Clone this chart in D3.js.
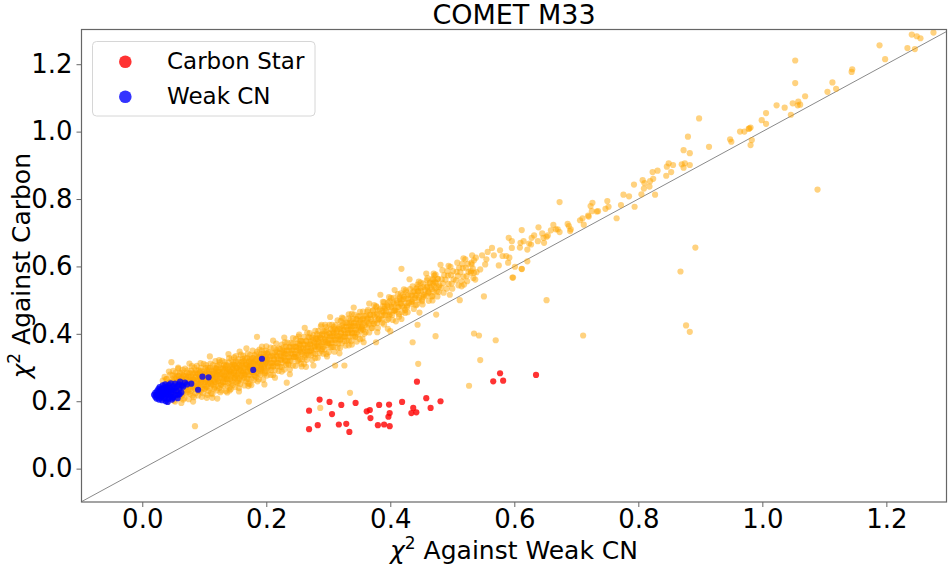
<!DOCTYPE html>
<html>
<head>
<meta charset="utf-8">
<script src="https://cdn.jsdelivr.net/npm/d3@7"></script>
<style>
  body { margin: 0; background: #fff; }
  text { font-family: "DejaVu Sans", sans-serif; fill: #000; }
</style>
</head>
<body>
<svg id="chart" width="948" height="565"></svg>
<script>
// ---- labels and ticks ----
const chartTitle = "COMET M33";
const xLabelText = " Against Weak CN";
const yLabelText = " Against Carbon";
const legendLabels = ["Carbon Star", "Weak CN"];
const xTicks = [0.0, 0.2, 0.4, 0.6, 0.8, 1.0, 1.2];
const yTicks = [0.0, 0.2, 0.4, 0.6, 0.8, 1.0, 1.2];

// ---- all stars: [chi2 vs weak CN, chi2 vs carbon] ----
// dense lower part of the sequence
const allStarsLow = [
[.034,.208],[.036,.222],[.035,.236],[.037,.249],[.033,.261],[.036,.272],[.041,.199],[.043,.214],[.040,.229],[.044,.241],[.042,.253],[.039,.266],[.045,.279],[.043,.288],
[.051,.202],[.049,.216],[.052,.227],[.048,.236],[.050,.244],[.051,.251],[.048,.259],[.052,.268],[.049,.277],[.050,.290],
[.053,.199],[.056,.215],[.055,.226],[.057,.235],[.054,.243],[.053,.251],[.056,.259],[.055,.267],[.057,.276],[.054,.285],
[.060,.210],[.062,.223],[.059,.234],[.061,.243],[.058,.251],[.060,.258],[.062,.266],[.059,.275],[.061,.284],[.058,.297],
[.066,.205],[.064,.217],[.067,.228],[.063,.238],[.065,.248],[.066,.258],[.063,.267],[.067,.276],[.064,.285],[.065,.293],
[.068,.209],[.071,.223],[.070,.234],[.072,.243],[.069,.251],[.068,.258],[.071,.266],[.070,.275],[.072,.284],[.069,.297],
[.075,.206],[.077,.222],[.074,.233],[.076,.242],[.073,.250],[.075,.258],[.077,.266],[.074,.274],[.076,.283],[.073,.292],
[.081,.217],[.079,.230],[.082,.241],[.078,.250],[.080,.258],[.081,.265],[.078,.273],[.082,.282],[.079,.291],[.080,.304],
[.083,.212],[.086,.224],[.085,.235],[.087,.245],[.084,.255],[.083,.265],[.086,.274],[.085,.283],[.087,.292],[.084,.300],
[.090,.217],[.092,.231],[.089,.242],[.091,.251],[.088,.259],[.090,.266],[.092,.274],[.089,.283],[.091,.292],[.088,.305],
[.096,.213],[.094,.229],[.097,.240],[.093,.249],[.095,.257],[.096,.265],[.093,.273],[.097,.281],[.094,.290],[.095,.299],
[.098,.224],[.101,.237],[.100,.248],[.102,.257],[.099,.265],[.098,.272],[.101,.280],[.100,.289],[.102,.298],[.099,.311],
[.105,.219],[.107,.231],[.104,.242],[.106,.252],[.103,.262],[.105,.272],[.107,.281],[.104,.290],[.106,.299],[.103,.307],
[.111,.224],[.109,.238],[.112,.249],[.108,.258],[.110,.266],[.111,.273],[.108,.281],[.112,.290],[.109,.299],[.110,.312],
[.113,.221],[.116,.237],[.115,.248],[.117,.257],[.114,.265],[.113,.273],[.116,.281],[.115,.289],[.117,.298],[.114,.307],
[.120,.232],[.122,.245],[.119,.256],[.121,.265],[.118,.273],[.120,.280],[.122,.288],[.119,.297],[.121,.306],[.118,.319],
[.126,.227],[.124,.239],[.127,.250],[.123,.260],[.125,.270],[.126,.280],[.123,.289],[.127,.298],[.124,.307],[.125,.315],
[.128,.232],[.131,.246],[.130,.257],[.132,.266],[.129,.274],[.128,.281],[.131,.289],[.130,.298],[.132,.307],[.129,.320],
[.135,.230],[.137,.246],[.134,.257],[.136,.266],[.133,.274],[.135,.282],[.137,.290],[.134,.298],[.136,.307],[.133,.316],
[.141,.241],[.139,.254],[.142,.265],[.138,.274],[.140,.282],[.141,.289],[.138,.297],[.142,.306],[.139,.315],[.140,.328],
[.143,.236],[.146,.248],[.145,.259],[.147,.269],[.144,.279],[.143,.289],[.146,.298],[.145,.307],[.147,.316],[.144,.324],
[.150,.242],[.152,.256],[.149,.267],[.151,.276],[.148,.284],[.150,.291],[.152,.299],[.149,.308],[.151,.317],[.148,.330],
[.156,.239],[.154,.255],[.157,.266],[.153,.275],[.155,.283],[.156,.291],[.153,.299],[.157,.307],[.154,.316],[.155,.325],
[.158,.251],[.161,.264],[.160,.275],[.162,.284],[.159,.292],[.158,.299],[.161,.307],[.160,.316],[.162,.325],[.159,.338],
[.165,.247],[.167,.259],[.164,.270],[.166,.280],[.163,.290],[.165,.300],[.167,.309],[.164,.318],[.166,.327],[.163,.335],
[.171,.253],[.169,.267],[.172,.278],[.168,.287],[.170,.295],[.171,.302],[.168,.310],[.172,.319],[.169,.328],[.170,.341],
[.173,.251],[.176,.267],[.175,.278],[.177,.287],[.174,.295],[.173,.303],[.176,.311],[.175,.319],[.177,.328],[.174,.337],
[.180,.263],[.182,.276],[.179,.287],[.181,.296],[.178,.304],[.180,.311],[.182,.319],[.179,.328],[.181,.337],[.178,.350],
[.186,.259],[.184,.271],[.187,.282],[.183,.292],[.185,.302],[.186,.312],[.183,.321],[.187,.330],[.184,.339],[.185,.347],
[.188,.265],[.191,.279],[.190,.290],[.192,.299],[.189,.307],[.188,.314],[.191,.322],[.190,.331],[.192,.340],[.189,.353],
[.195,.264],[.197,.280],[.194,.291],[.196,.300],[.193,.308],[.195,.316],[.197,.324],[.194,.332],[.196,.341],[.193,.350],
[.201,.276],[.199,.289],[.202,.300],[.198,.309],[.200,.317],[.201,.324],[.198,.332],[.202,.341],[.199,.350],[.200,.363]
];

// middle part of the sequence
const allStarsMid = [
[.207,.278],[.204,.292],[.208,.304],[.206,.314],[.205,.324],[.208,.334],[.204,.346],[.207,.359],
[.211,.278],[.214,.292],[.212,.304],[.210,.314],[.213,.324],[.211,.334],[.214,.345],[.212,.358],
[.220,.290],[.218,.304],[.216,.315],[.219,.325],[.217,.335],[.218,.345],[.220,.357],[.216,.371],
[.225,.288],[.222,.302],[.226,.314],[.224,.324],[.223,.334],[.226,.344],[.222,.355],[.225,.368],
[.229,.294],[.232,.308],[.230,.320],[.228,.330],[.231,.340],[.229,.350],[.232,.362],[.230,.375],
[.238,.294],[.236,.308],[.234,.320],[.237,.330],[.235,.340],[.236,.350],[.238,.361],[.234,.374],
[.243,.306],[.240,.320],[.244,.331],[.242,.341],[.241,.351],[.244,.361],[.240,.373],[.243,.387],
[.247,.305],[.250,.319],[.248,.331],[.246,.341],[.249,.351],[.247,.361],[.250,.372],[.248,.385],
[.256,.311],[.254,.325],[.252,.337],[.255,.347],[.253,.357],[.254,.367],[.256,.379],[.252,.392],
[.261,.311],[.258,.325],[.262,.337],[.260,.347],[.259,.357],[.262,.367],[.258,.378],[.261,.391],
[.265,.323],[.268,.337],[.266,.348],[.264,.358],[.267,.368],[.265,.378],[.268,.390],[.266,.404],
[.274,.322],[.272,.336],[.270,.348],[.273,.358],[.271,.368],[.272,.378],[.274,.389],[.270,.402],
[.279,.328],[.276,.342],[.280,.354],[.278,.364],[.277,.374],[.280,.384],[.276,.396],[.279,.409],
[.283,.329],[.286,.343],[.284,.355],[.282,.365],[.285,.375],[.283,.385],[.286,.396],[.284,.409],
[.292,.341],[.290,.355],[.288,.366],[.291,.376],[.289,.386],[.290,.396],[.292,.408],[.288,.422],
[.297,.340],[.294,.354],[.298,.366],[.296,.376],[.295,.386],[.298,.396],[.294,.407],[.297,.420],
[.301,.346],[.304,.360],[.302,.372],[.300,.382],[.303,.392],[.301,.402],[.304,.414],[.302,.427],
[.310,.347],[.308,.361],[.306,.373],[.309,.383],[.307,.393],[.308,.403],[.310,.414],[.306,.427],
[.315,.359],[.312,.373],[.316,.384],[.314,.394],[.313,.404],[.316,.414],[.312,.426],[.315,.440],
[.319,.358],[.322,.372],[.320,.384],[.318,.394],[.321,.404],[.319,.414],[.322,.425],[.320,.438],
[.328,.365],[.326,.379],[.324,.391],[.327,.401],[.325,.411],[.326,.421],[.328,.433],[.324,.446],
[.333,.366],[.330,.380],[.334,.392],[.332,.402],[.331,.412],[.334,.422],[.330,.433],[.333,.446],
[.337,.378],[.340,.392],[.338,.403],[.336,.413],[.339,.423],[.337,.433],[.340,.445],[.338,.459],
[.346,.377],[.344,.391],[.342,.403],[.345,.413],[.343,.423],[.344,.433],[.346,.444],[.342,.457],
[.351,.384],[.348,.398],[.352,.410],[.350,.420],[.349,.430],[.352,.440],[.348,.452],[.351,.465],
[.355,.386],[.358,.400],[.356,.412],[.354,.422],[.357,.432],[.355,.442],[.358,.453],[.356,.466]
];

// crowded core of the sequence
const allStarsCore = [
[.046,.217],[.041,.228],[.047,.237],[.040,.247],[.044,.256],[.039,.266],
[.049,.225],[.056,.236],[.051,.246],[.055,.255],[.048,.264],[.054,.274],
[.063,.221],[.057,.232],[.062,.242],[.065,.252],[.059,.261],[.064,.270],
[.073,.227],[.068,.238],[.074,.247],[.067,.257],[.071,.266],[.066,.276],
[.076,.235],[.083,.246],[.078,.256],[.082,.265],[.075,.274],[.081,.284],
[.090,.231],[.084,.242],[.089,.252],[.092,.262],[.086,.271],[.091,.280],
[.100,.237],[.095,.248],[.101,.257],[.094,.267],[.098,.276],[.093,.286],
[.103,.244],[.110,.255],[.105,.265],[.109,.274],[.102,.283],[.108,.293],
[.117,.241],[.111,.252],[.116,.262],[.119,.272],[.113,.281],[.118,.290],
[.127,.248],[.122,.259],[.128,.268],[.121,.278],[.125,.287],[.120,.297],
[.130,.256],[.137,.267],[.132,.277],[.136,.286],[.129,.295],[.135,.305],
[.144,.253],[.138,.264],[.143,.274],[.146,.284],[.140,.293],[.145,.302],
[.154,.260],[.149,.271],[.155,.280],[.148,.290],[.152,.299],[.147,.309],
[.157,.269],[.164,.280],[.159,.290],[.163,.299],[.156,.308],[.162,.318],
[.171,.267],[.165,.278],[.170,.288],[.173,.298],[.167,.307],[.172,.316],
[.181,.276],[.176,.287],[.182,.296],[.175,.306],[.179,.315],[.174,.325],
[.184,.285],[.191,.296],[.186,.306],[.190,.315],[.183,.324],[.189,.334],
[.198,.284],[.192,.295],[.197,.305],[.200,.315],[.194,.324],[.199,.333],
[.208,.293],[.203,.304],[.209,.313],[.202,.323],[.206,.332],[.201,.342],
[.211,.303],[.218,.314],[.213,.324],[.217,.333],[.210,.342],[.216,.352],
[.225,.302],[.219,.313],[.224,.323],[.227,.333],[.221,.342],[.226,.351],
[.235,.311],[.230,.322],[.236,.331],[.229,.341],[.233,.350],[.228,.360],
[.238,.321],[.245,.332],[.240,.342],[.244,.351],[.237,.360],[.243,.370],
[.252,.321],[.246,.332],[.251,.342],[.254,.352],[.248,.361],[.253,.370],
[.262,.330],[.257,.341],[.263,.350],[.256,.360],[.260,.369],[.255,.379],
[.265,.340],[.272,.351],[.267,.361],[.271,.370],[.264,.379],[.270,.389],
[.279,.340],[.273,.351],[.278,.361],[.281,.371],[.275,.380],[.280,.389],
[.289,.350],[.284,.361],[.290,.370],[.283,.380],[.287,.389],[.282,.399],
[.292,.361],[.299,.372],[.294,.382],[.298,.391],[.291,.400],[.297,.410],
[.306,.361],[.300,.372],[.305,.382],[.308,.392],[.302,.401],[.307,.410],
[.316,.371],[.311,.382],[.317,.391],[.310,.401],[.314,.410],[.309,.420],
[.319,.381],[.326,.392],[.321,.402],[.325,.411],[.318,.420],[.324,.430],
[.333,.381],[.327,.392],[.332,.402],[.335,.412],[.329,.421],[.334,.430],
[.343,.392],[.338,.403],[.344,.412],[.337,.422],[.341,.431],[.336,.441],
[.346,.404],[.353,.415],[.348,.425],[.352,.434],[.345,.443],[.351,.453],
[.360,.405],[.354,.416],[.359,.426],[.362,.436],[.356,.445],[.361,.454],
[.370,.417],[.365,.428],[.371,.437],[.364,.447],[.368,.456],[.363,.466],
[.373,.430],[.380,.441],[.375,.451],[.379,.460],[.372,.469],[.378,.479],
[.387,.433],[.381,.444],[.386,.454],[.389,.464],[.383,.473],[.388,.482],
[.397,.445],[.392,.456],[.398,.465],[.391,.475],[.395,.484],[.390,.494],
[.400,.458],[.407,.469],[.402,.479],[.406,.488],[.399,.497],[.405,.507],
[.414,.459],[.408,.470],[.413,.480],[.416,.490],[.410,.499],[.415,.508],
[.424,.471],[.419,.482],[.425,.491],[.418,.501],[.422,.510],[.417,.520],
[.427,.484],[.434,.495],[.429,.505],[.433,.514],[.426,.523],[.432,.533],
[.441,.485],[.435,.496],[.440,.506],[.443,.516],[.437,.525],[.442,.534],
[.451,.497],[.446,.508],[.452,.517],[.445,.527],[.449,.536],[.444,.546],
[.454,.510],[.461,.521],[.456,.531],[.460,.540],[.453,.549],[.459,.559],
[.468,.512],[.462,.523],[.467,.533],[.470,.543],[.464,.552],[.469,.561],
[.478,.524],[.473,.535],[.479,.544],[.472,.554],[.476,.563],[.471,.573]
];

// loose edges of the sequence
const allStarsHalo = [
[.058,.300],[.076,.312],[.094,.313],[.109,.333],[.124,.322],[.139,.340],[.151,.334],[.168,.357],
[.193,.362],[.211,.380],[.229,.389],[.253,.398],[.262,.418],[.289,.427],[.303,.450],[.322,.448],
[.341,.478],[.366,.490],[.384,.516],[.407,.530],[.431,.562],[.458,.579],[.481,.605],
[.063,.195],[.082,.199],[.104,.210],[.121,.208],[.137,.226],[.156,.229],[.176,.248],[.197,.250],
[.214,.270],[.238,.280],[.257,.303],[.276,.306],[.298,.333],[.318,.342],[.338,.368],[.357,.375],
[.379,.405],[.396,.415],[.418,.444],[.447,.463],[.468,.499],[.496,.516]
];

// upper part of the sequence, thinning out
const allStarsHigh = [
[.366,.404],[.362,.419],[.365,.432],[.363,.444],[.367,.456],[.364,.471],
[.371,.417],[.374,.431],[.369,.444],[.373,.456],[.372,.469],[.374,.485],
[.380,.417],[.379,.432],[.382,.445],[.378,.457],[.381,.469],[.377,.482],
[.390,.428],[.386,.443],[.389,.456],[.387,.468],[.391,.480],[.388,.495],
[.395,.441],[.398,.455],[.393,.468],[.397,.480],[.396,.493],[.398,.509],
[.404,.441],[.403,.456],[.406,.469],[.402,.481],[.405,.493],[.401,.506],
[.414,.451],[.410,.466],[.413,.479],[.411,.491],[.415,.503],[.412,.518],
[.419,.464],[.422,.478],[.417,.491],[.421,.503],[.420,.516],[.422,.532],
[.428,.464],[.427,.479],[.430,.492],[.426,.504],[.429,.516],[.425,.529],
[.438,.474],[.434,.489],[.437,.502],[.435,.514],[.439,.526],[.436,.541],
[.443,.487],[.446,.501],[.441,.514],[.445,.526],[.444,.539],[.446,.555],
[.452,.487],[.451,.502],[.454,.515],[.450,.527],[.453,.539],[.449,.552],
[.462,.498],[.458,.513],[.461,.526],[.459,.538],[.463,.550],[.460,.565],
[.467,.511],[.470,.525],[.465,.538],[.469,.550],[.468,.563],[.470,.579],
[.476,.511],[.475,.526],[.478,.539],[.474,.551],[.477,.563],[.473,.576],
[.486,.522],[.482,.537],[.485,.550],[.483,.562],[.487,.574],[.484,.589],
[.491,.534],[.494,.548],[.489,.561],[.493,.573],[.492,.586],[.494,.602],
[.500,.534],[.499,.549],[.502,.562],[.498,.574],[.501,.586],[.497,.599],
[.510,.544],[.506,.559],[.509,.572],[.507,.584],[.511,.596],[.508,.611],
[.515,.556],[.518,.570],[.513,.583],[.517,.595],[.516,.608],[.518,.624],
[.524,.556],[.523,.571],[.526,.584],[.522,.596],[.525,.608],[.521,.621],
[.534,.566],[.530,.581],[.533,.594],[.531,.606],[.535,.618],[.532,.633]
];

// sparse upper sequence
const allStarsSparse = [
[.538,.626],[.531,.611],[.548,.633],[.555,.621],[.557,.643],[.564,.655],[.567,.633],[.553,.606],
[.545,.591],[.535,.581],[.539,.583],[.537,.561],[.530,.586],[.577,.648],[.581,.631],[.575,.603],
[.587,.631],[.592,.626],[.590,.611],[.597,.567],[.601,.599],[.612,.593],[.621,.615],[.591,.685],
[.596,.675],[.596,.655],[.610,.670],[.612,.708],[.615,.675],[.609,.656],[.621,.650],[.624,.668],
[.628,.685],[.627,.665],[.632,.692],[.638,.675],[.639,.716],[.645,.698],[.647,.685],[.648,.670],
[.652,.688],[.654,.692],[.659,.707],[.663,.723],[.667,.710],[.670,.710],[.673,.702],[.673,.791],
[.688,.720],[.686,.726],[.690,.705],[.691,.710],[.706,.737],[.710,.743],[.712,.724],[.720,.748],
[.719,.751],[.723,.779],[.726,.789],[.725,.764],[.733,.763],[.735,.764],[.747,.771],[.750,.794],
[.752,.777],[.765,.743],[.772,.782],[.776,.813],[.785,.808],[.794,.777],[.793,.843],[.805,.814],
[.807,.856],[.810,.847],[.809,.831],[.818,.837],[.819,.853],[.824,.860],[.823,.880],[.831,.884],
[.827,.813],[.845,.869],[.846,.896],[.849,.906],[.853,.880],[.856,.901],[.870,.903],[.873,.945],
[.873,.893],[.875,.906],[.883,.901],[.883,.936],[.880,.985],[.898,1.039],[.914,.955],[.948,.977],
[.950,.970],[.964,1.000],[.971,1.000],[.978,1.008],[.979,1.010],[.981,1.012],[.983,.975],[.981,.960],
[.999,1.034],[1.006,1.023],[1.006,1.055],[1.023,1.078],[1.036,1.071],[1.046,1.050],[1.049,1.084],
[1.058,1.089],[1.061,1.080],[1.057,1.078],[1.069,1.105],[1.053,1.144],[1.053,1.211],[1.105,1.118],
[1.119,1.127],[1.113,1.146],[1.144,1.177],[1.145,1.185],[1.198,1.215],[1.189,1.256],[1.234,1.248],
[1.246,1.245],[1.241,1.288],[1.249,1.283],[1.255,1.277],[1.276,1.294]
];

// stars away from the main sequence
const allStarsOutliers = [
[.047,.316],[.085,.126],[.185,.391],[.157,.347],[.172,.199],[.233,.255],[.287,.180],[.335,.225],
[.311,.306],[.326,.306],[.264,.302],[.295,.427],[.333,.458],[.113,.210],[.141,.232],[.171,.245],
[.377,.375],[.400,.408],[.409,.437],[.424,.462],[.418,.593],[.436,.375],[.445,.311],[.444,.427],
[.473,.393],[.474,.457],[.512,.500],[.515,.541],[.519,.546],[.527,.246],[.535,.401],[.543,.395],
[.545,.322],[.551,.511],[.570,.381],[.598,.567],[.612,.592],[.652,.500],[.711,.395],[.868,.585],
[.877,.425],[.883,.406],[.892,.656],[1.089,.828]
];

// classified carbon stars
const carbonStars = [
[.269,.172],[.286,.205],[.302,.198],[.321,.189],[.344,.195],[.306,.162],[.269,.117],[.283,.129],
[.317,.131],[.329,.133],[.334,.109],[.362,.170],[.367,.174],[.368,.150],[.382,.189],[.398,.190],
[.399,.165],[.397,.154],[.380,.129],[.390,.131],[.399,.126],[.419,.198],[.437,.180],[.434,.165],
[.442,.167],[.458,.209],[.465,.180],[.481,.200],[.443,.258],[.566,.259],[.577,.283],[.582,.261],
[.635,.278]
];

// classified weak CN stars
const weakCN = [
[.019,.219],[.021,.213],[.021,.225],[.023,.208],[.023,.219],[.024,.230],[.025,.214],[.026,.224],
[.026,.236],[.027,.205],[.028,.218],[.028,.242],[.029,.229],[.030,.211],[.031,.222],[.031,.236],
[.032,.203],[.033,.247],[.033,.216],[.034,.228],[.035,.239],[.036,.209],[.036,.222],[.037,.232],
[.037,.250],[.038,.200],[.039,.216],[.039,.243],[.040,.226],[.041,.235],[.042,.207],[.042,.220],
[.043,.248],[.044,.229],[.045,.214],[.045,.240],[.046,.253],[.047,.223],[.048,.233],[.048,.205],
[.050,.245],[.050,.212],[.051,.228],[.052,.238],[.053,.252],[.054,.218],[.055,.231],[.056,.244],
[.057,.209],[.058,.220],[.059,.250],[.060,.236],[.061,.258],[.063,.226],[.064,.247],[.066,.243],
[.069,.255],[.072,.250],[.079,.252],[.049,.210],[.060,.220],[.041,.198],[.090,.234],[.097,.273],
[.107,.271],[.179,.293],[.193,.326]
];

// ---- drawing ----
const svg = d3.select("#chart");
const frame = { left: 81.5, right: 946.5, top: 29.5, bottom: 502 };

const x = d3.scaleLinear().domain([-0.098, 1.297]).range([frame.left, frame.right]);
const y = d3.scaleLinear().domain([-0.099, 1.303]).range([frame.bottom, frame.top]);

svg.append("defs").append("clipPath").attr("id", "plot-clip")
  .append("rect")
  .attr("x", frame.left).attr("y", frame.top)
  .attr("width", frame.right - frame.left).attr("height", frame.bottom - frame.top);

const plot = svg.append("g").attr("clip-path", "url(#plot-clip)");

// one-to-one line
const lo = -0.1, hi = 1.31;
plot.append("line")
  .attr("x1", x(lo)).attr("y1", y(lo))
  .attr("x2", x(hi)).attr("y2", y(hi))
  .attr("stroke", "#8a8a8a").attr("stroke-width", 1);

const allStars = allStarsLow.concat(allStarsMid, allStarsCore, allStarsHalo, allStarsHigh, allStarsSparse, allStarsOutliers);

function drawPoints(data, color, opacity) {
  plot.append("g").selectAll("circle").data(data).join("circle")
    .attr("cx", d => x(d[0]))
    .attr("cy", d => y(d[1]))
    .attr("r", 3.1)
    .attr("fill", color)
    .attr("fill-opacity", opacity);
}
drawPoints(allStars, "#ffa500", 0.5);
drawPoints(carbonStars, "#ff0000", 0.8);
drawPoints(weakCN, "#0000ff", 0.8);

// axes
const fmt = d3.format(".1f");
const xAxis = svg.append("g")
  .attr("transform", `translate(0,${frame.bottom})`)
  .call(d3.axisBottom(x).tickValues(xTicks).tickFormat(fmt).tickSize(5).tickPadding(3));
const yAxis = svg.append("g")
  .attr("transform", `translate(${frame.left},0)`)
  .call(d3.axisLeft(y).tickValues(yTicks).tickFormat(fmt).tickSize(5).tickPadding(4));
[xAxis, yAxis].forEach(g => {
  g.select(".domain").remove();
  g.selectAll(".tick line").attr("stroke", "#666");
  g.selectAll(".tick text").attr("font-size", 26).attr("font-family", "DejaVu Sans, sans-serif").attr("fill", "#000");
});

// frame
svg.append("rect")
  .attr("x", frame.left).attr("y", frame.top)
  .attr("width", frame.right - frame.left).attr("height", frame.bottom - frame.top)
  .attr("fill", "none").attr("stroke", "#666").attr("stroke-width", 1.2);

// title
svg.append("text")
  .attr("x", (frame.left + frame.right) / 2).attr("y", 24)
  .attr("text-anchor", "middle").attr("font-size", 27)
  .text(chartTitle);

// axis labels with chi-squared symbol
function chiLabel(sel, rest) {
  sel.append("tspan").attr("font-style", "italic").text("χ");
  sel.append("tspan").attr("font-size", 17).attr("dy", -10).text("2");
  sel.append("tspan").attr("dy", 10).text(rest);
}
const xl = svg.append("text")
  .attr("x", (frame.left + frame.right) / 2).attr("y", 559)
  .attr("text-anchor", "middle").attr("font-size", 25);
chiLabel(xl, xLabelText);

const yl = svg.append("text")
  .attr("transform", `translate(30,${(frame.top + frame.bottom) / 2}) rotate(-90)`)
  .attr("text-anchor", "middle").attr("font-size", 25);
chiLabel(yl, yLabelText);

// legend
const legend = svg.append("g");
legend.append("rect")
  .attr("x", 92.5).attr("y", 41.5).attr("width", 222.5).attr("height", 74.5)
  .attr("rx", 4).attr("fill", "#fff").attr("fill-opacity", 0.8)
  .attr("stroke", "#d6d6d6").attr("stroke-width", 1);
const legendColors = ["#ff0000", "#0000ff"];
const legendRows = [61.7, 96.7];
legendLabels.forEach((lab, i) => {
  legend.append("circle").attr("cx", 125.3).attr("cy", legendRows[i]).attr("r", 6.3)
    .attr("fill", legendColors[i]).attr("fill-opacity", 0.8);
  legend.append("text").attr("x", 167).attr("y", legendRows[i] + 7.5)
    .attr("font-size", 23).text(lab);
});
</script>
</body>
</html>
